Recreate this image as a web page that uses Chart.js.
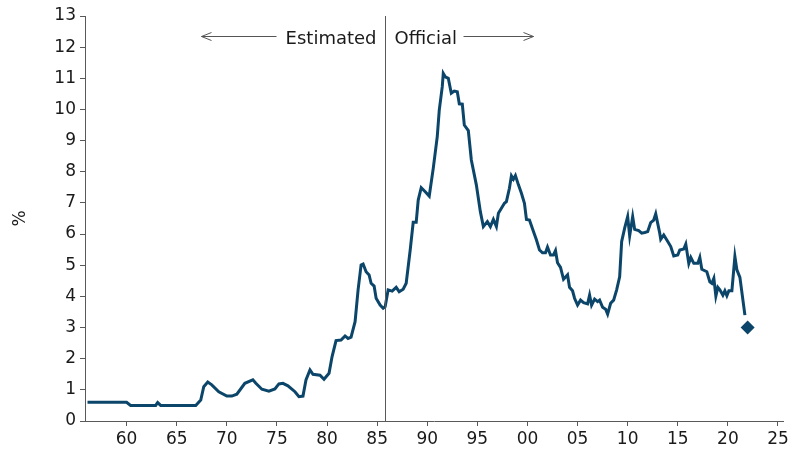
<!DOCTYPE html>
<html>
<head>
<meta charset="utf-8">
<script src="https://cdn.jsdelivr.net/npm/chart.js@4.4.0/dist/chart.umd.min.js"></script>
<style>
    body { margin: 0; background: #ffffff; }
    #wrap { width: 795px; height: 453px; }
</style>
</head>
<body>
<div id="wrap"><canvas id="rateChart" width="795" height="453"></canvas></div>
<script>
// unemployment rate, %
const years = [
    1956.1, 1960.0, 1960.4, 1962.9, 1963.1, 1963.4, 1966.9, 1967.4, 1967.7, 1968.1,
    1968.5, 1969.2, 1970.0, 1970.5, 1971.0, 1971.8, 1972.6, 1972.9, 1973.5, 1974.2,
    1974.8, 1975.2, 1975.6, 1976.1, 1976.8, 1977.2, 1977.6, 1977.9, 1978.3, 1978.6,
    1979.3, 1979.7, 1980.2, 1980.5, 1980.9, 1981.4, 1981.8, 1982.1, 1982.4, 1982.8,
    1983.1, 1983.4, 1983.6, 1983.9, 1984.2, 1984.4, 1984.7, 1984.9, 1985.3, 1985.6,
    1985.8, 1986.1, 1986.5, 1986.9, 1987.2, 1987.6, 1987.9, 1988.3, 1988.6, 1988.9,
    1989.1, 1989.4, 1989.8, 1990.2, 1990.6, 1991.0, 1991.2, 1991.5, 1991.6, 1991.8,
    1992.1, 1992.4, 1992.7, 1993.0, 1993.2, 1993.5, 1993.7, 1994.1, 1994.4, 1994.9,
    1995.3, 1995.6, 1996.0, 1996.3, 1996.6, 1996.9, 1997.1, 1997.4, 1997.7, 1997.9,
    1998.2, 1998.4, 1998.6, 1998.8, 1999.1, 1999.4, 1999.7, 1999.9, 2000.2, 2000.6,
    2000.9, 2001.2, 2001.5, 2001.8, 2002.0, 2002.3, 2002.6, 2002.8, 2003.0, 2003.3,
    2003.6, 2004.0, 2004.2, 2004.5, 2004.7, 2005.0, 2005.3, 2005.6, 2006.0, 2006.2,
    2006.4, 2006.7, 2007.0, 2007.2, 2007.5, 2007.8, 2008.0, 2008.3, 2008.6, 2008.9,
    2009.2, 2009.4, 2009.7, 2010.0, 2010.2, 2010.5, 2010.7, 2011.1, 2011.4, 2011.7,
    2012.0, 2012.3, 2012.6, 2012.8, 2013.2, 2013.3, 2013.6, 2014.0, 2014.3, 2014.6,
    2015.0, 2015.2, 2015.6, 2015.8, 2016.1, 2016.3, 2016.6, 2017.0, 2017.2, 2017.4,
    2017.9, 2018.2, 2018.4, 2018.6, 2018.8, 2019.0, 2019.2, 2019.5, 2019.7, 2019.9,
    2020.1, 2020.4, 2020.7, 2020.9, 2021.2, 2021.7
];
const rates = [
    0.60, 0.60, 0.50, 0.50, 0.59, 0.50, 0.50, 0.67, 1.10, 1.25,
    1.16, 0.94, 0.80, 0.80, 0.86, 1.21, 1.32, 1.21, 1.02, 0.96,
    1.03, 1.19, 1.21, 1.13, 0.94, 0.78, 0.80, 1.32, 1.64, 1.50,
    1.47, 1.34, 1.53, 2.06, 2.58, 2.60, 2.73, 2.65, 2.69, 3.19,
    4.21, 5.01, 5.04, 4.79, 4.69, 4.42, 4.33, 3.94, 3.72, 3.62,
    3.67, 4.21, 4.17, 4.29, 4.15, 4.23, 4.42, 5.49, 6.38, 6.38,
    7.09, 7.49, 7.36, 7.22, 8.11, 9.13, 9.98, 10.73, 11.16, 11.05,
    11.00, 10.52, 10.59, 10.57, 10.18, 10.17, 9.50, 9.32, 8.38, 7.58,
    6.72, 6.24, 6.40, 6.24, 6.47, 6.24, 6.67, 6.83, 6.99, 7.04,
    7.47, 7.87, 7.76, 7.88, 7.58, 7.31, 6.99, 6.47, 6.45, 6.08,
    5.81, 5.49, 5.40, 5.40, 5.58, 5.33, 5.33, 5.47, 5.08, 4.93,
    4.55, 4.69, 4.29, 4.18, 3.94, 3.72, 3.88, 3.80, 3.76, 4.04,
    3.72, 3.91, 3.83, 3.88, 3.65, 3.59, 3.43, 3.78, 3.88, 4.21,
    4.63, 5.76, 6.19, 6.56, 5.94, 6.56, 6.15, 6.11, 6.03, 6.05,
    6.08, 6.37, 6.45, 6.65, 6.03, 5.83, 5.97, 5.76, 5.60, 5.30,
    5.33, 5.49, 5.52, 5.68, 5.06, 5.25, 5.06, 5.06, 5.25, 4.87,
    4.79, 4.47, 4.42, 4.58, 4.01, 4.29, 4.21, 4.04, 4.18, 4.02,
    4.18, 4.18, 5.28, 4.85, 4.61, 3.40
];
const forecastYear = [2021.97];
const forecastRate = [3.0];
const xTicks = [1960, 1965, 1970, 1975, 1980, 1985, 1990, 1995, 2000, 2005, 2010, 2015, 2020, 2025];
const breakYear = 1985.75; // estimated -> official

const navy = '#0b466a';
const axisGrey = '#595959';
const textColor = '#1a1a1a';
const fontFamily = '"DejaVu Sans", Verdana, sans-serif';

// vertical divider plus the two labels with arrows
const annotations = {
    id: 'annotations',
    afterDraw(chart) {
        const ctx = chart.ctx;
        const area = chart.chartArea;
        const lx = Math.round(chart.scales.x.getPixelForValue(breakYear)) + 0.5;
        ctx.save();
        ctx.strokeStyle = axisGrey;
        ctx.lineWidth = 1;
        ctx.beginPath();
        ctx.moveTo(lx, area.top);
        ctx.lineTo(lx, area.bottom);
        ctx.stroke();

        ctx.fillStyle = textColor;
        ctx.font = '18px ' + fontFamily;
        ctx.textBaseline = 'alphabetic';
        ctx.textAlign = 'right';
        ctx.fillText('Estimated', lx - 9, 44);
        ctx.textAlign = 'left';
        ctx.fillText('Official', lx + 9, 44);

        const ay = 36.5;
        function arrow(x1, x2) {
            const dir = Math.sign(x2 - x1);
            ctx.beginPath();
            ctx.moveTo(x1, ay);
            ctx.lineTo(x2, ay);
            ctx.moveTo(x2 - dir * 10, ay - 4);
            ctx.lineTo(x2, ay);
            ctx.lineTo(x2 - dir * 10, ay + 4);
            ctx.stroke();
        }
        ctx.strokeStyle = '#555555';
        arrow(lx - 109, lx - 184);
        arrow(lx + 78, lx + 148);
        ctx.restore();
    }
};

const ctx = document.getElementById('rateChart').getContext('2d');
const rateChart = new Chart(ctx, {
    type: 'line',
    data: {
        datasets: [{
            data: years.map((yr, i) => ({ x: yr, y: rates[i] })),
            borderColor: navy,
            borderWidth: 3,
            pointRadius: 0,
            tension: 0,
            fill: false
        }, {
            data: forecastYear.map((yr, i) => ({ x: yr, y: forecastRate[i] })),
            showLine: false,
            pointStyle: 'rectRot',
            pointRadius: 7,
            pointBackgroundColor: navy,
            pointBorderColor: navy,
            pointBorderWidth: 0
        }]
    },
    options: {
        responsive: false,
        animation: false,
        layout: {
            padding: { top: 16, right: 12, left: 0, bottom: 0 }
        },
        plugins: {
            legend: { display: false },
            tooltip: { enabled: false }
        },
        scales: {
            x: {
                type: 'linear',
                min: 1955.85,
                max: 2025.5,
                afterBuildTicks: (scale) => {
                    scale.ticks = xTicks.map(v => ({ value: v }));
                },
                afterFit: (scale) => { scale.height = 32; },
                ticks: {
                    autoSkip: false,
                    maxRotation: 0,
                    padding: 3,
                    color: textColor,
                    font: { family: fontFamily, size: 17 },
                    callback: (v) => String(v % 100).padStart(2, '0')
                },
                grid: {
                    drawOnChartArea: false,
                    color: axisGrey,
                    tickLength: 5
                },
                border: { color: axisGrey, width: 1 }
            },
            y: {
                min: 0,
                max: 13,
                afterFit: (scale) => { scale.width = 85; },
                ticks: {
                    stepSize: 1,
                    padding: 4,
                    color: textColor,
                    font: { family: fontFamily, size: 17 }
                },
                title: {
                    display: true,
                    text: '%',
                    color: textColor,
                    font: { family: fontFamily, size: 17 },
                    padding: { top: 10, bottom: 0 }
                },
                grid: {
                    drawOnChartArea: false,
                    color: axisGrey,
                    tickLength: 5
                },
                border: { color: axisGrey, width: 1 }
            }
        }
    },
    plugins: [annotations]
});
</script>
</body>
</html>
